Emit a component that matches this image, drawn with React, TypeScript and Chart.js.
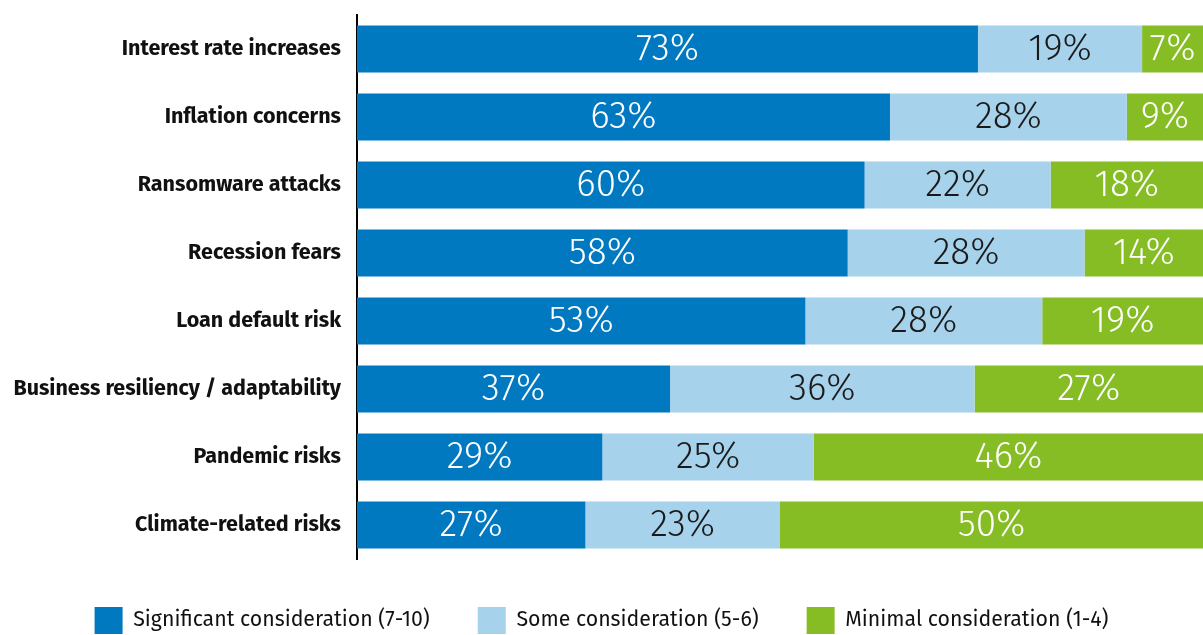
import React, { useEffect, useRef } from "react";
import { Chart, registerables } from "chart.js";

Chart.register(...registerables);

const categories = [
  "Interest rate increases",
  "Inflation concerns",
  "Ransomware attacks",
  "Recession fears",
  "Loan default risk",
  "Business resiliency / adaptability",
  "Pandemic risks",
  "Climate-related risks",
];
const significant = [73.4, 63, 60, 58, 53, 37, 29, 27];
const some = [19.4, 28, 22, 28, 28, 36, 25, 23];
const minimal = [7.2, 9, 18, 14, 19, 27, 46, 50];
const seriesNames = [
  "Significant consideration (7-10)",
  "Some consideration (5-6)",
  "Minimal consideration (1-4)",
];
const colors = ["#0079C1", "#A7D2EB", "#86BC24"];
const labelColors = ["#ffffff", "#1a1a1a", "#ffffff"];

const FONT = "'Fira Sans', Lato, 'Open Sans', sans-serif";

const valueLabels = {
  id: "valueLabels",
  afterDatasetsDraw(chart: any) {
    const ctx = chart.ctx;
    ctx.save();
    ctx.font = `300 37px ${FONT}`;
    ctx.textAlign = "center";
    ctx.textBaseline = "middle";
    chart.data.datasets.forEach((ds: any, di: number) => {
      const meta = chart.getDatasetMeta(di);
      meta.data.forEach((bar: any, i: number) => {
        const v = ds.data[i];
        const cx = (bar.x + bar.base) / 2;
        ctx.fillStyle = labelColors[di];
        ctx.fillText(Math.round(v) + "%", cx, bar.y + 1);
      });
    });
    ctx.restore();
  },
};

export default function App() {
  const ref = useRef<HTMLCanvasElement>(null);
  useEffect(() => {
    if (!ref.current) return;
    const chart = new Chart(ref.current, {
      type: "bar",
      data: {
        labels: categories,
        datasets: [significant, some, minimal].map((d, i) => ({
          label: seriesNames[i],
          data: d,
          backgroundColor: colors[i],
          borderWidth: 0,
          barPercentage: 0.69,
          categoryPercentage: 1,
        })),
      },
      options: {
        indexAxis: "y",
        animation: false,
        responsive: false,
        maintainAspectRatio: false,
        layout: { padding: { top: 15, right: 0, left: 0, bottom: 0 } },
        scales: {
          x: {
            stacked: true,
            min: 0,
            max: 100,
            display: false,
          },
          y: {
            stacked: true,
            grid: { display: false, drawTicks: false },
            border: { display: true, color: "#000", width: 2 },
            ticks: {
              color: "#111",
              padding: 16,
              font: { family: FONT, size: 21.5, weight: "bold" },
            },
            afterFit(scale: any) {
              scale.width = 357;
              scale.paddingTop = 0;
              scale.paddingBottom = 0;
            },
          },
        },
        plugins: {
          tooltip: { enabled: false },
          legend: {
            position: "bottom",
            labels: {
              boxWidth: 28,
              boxHeight: 27,
              padding: 48,
              color: "#111",
              font: { family: FONT, size: 21.3 },
            },
          },
        },
      },
      plugins: [valueLabels],
    });
    return () => chart.destroy();
  }, []);
  return (
    <div style={{ position: "fixed", left: 0, top: 0, width: 1203, height: 635, overflow: "hidden", background: "#fff" }}>
      <canvas ref={ref} width={1203} height={644} style={{ width: 1203, height: 644, display: "block" }} />
    </div>
  );
}
